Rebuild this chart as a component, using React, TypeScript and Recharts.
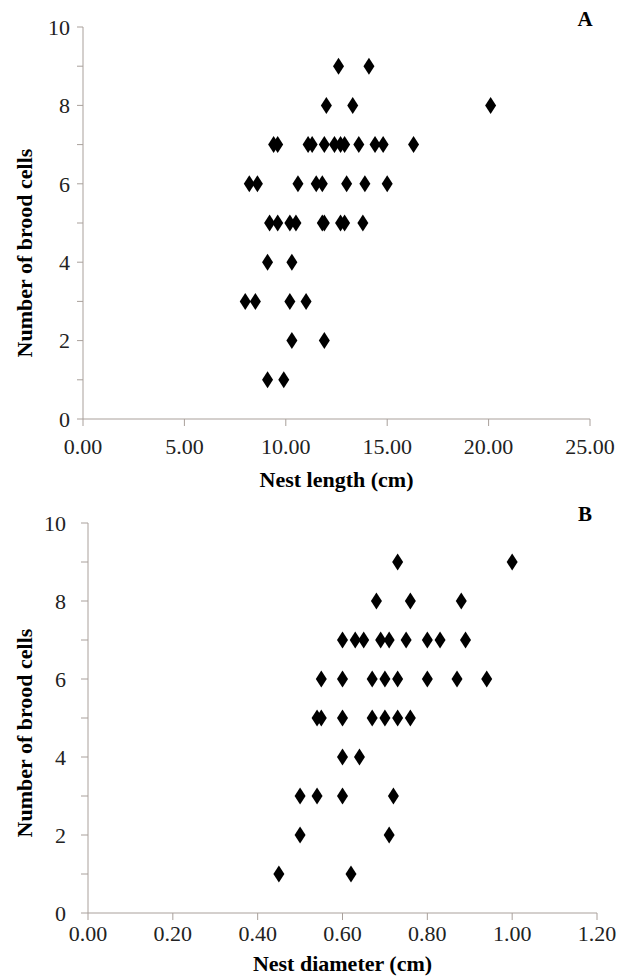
import React from 'react';
import { ScatterChart, Scatter, XAxis, YAxis, Label } from 'recharts';

// Panel A: nest length (cm) vs number of brood cells
const lengthCm = [
  12.6, 14.1,
  12.0, 13.3, 20.1,
  9.4, 9.6, 11.1, 11.3, 11.9, 12.4, 12.7, 12.9, 13.6, 14.4, 14.8, 16.3,
  8.2, 8.6, 10.6, 11.5, 11.8, 13.0, 13.9, 15.0,
  9.2, 9.6, 10.2, 10.5, 11.8, 11.9, 12.7, 12.9, 13.8,
  9.1, 10.3,
  8.0, 8.5, 10.2, 11.0,
  10.3, 11.9,
  9.1, 9.9,
];
const lengthCells = [
  9, 9,
  8, 8, 8,
  7, 7, 7, 7, 7, 7, 7, 7, 7, 7, 7, 7,
  6, 6, 6, 6, 6, 6, 6, 6,
  5, 5, 5, 5, 5, 5, 5, 5, 5,
  4, 4,
  3, 3, 3, 3,
  2, 2,
  1, 1,
];

// Panel B: nest diameter (cm) vs number of brood cells
const diameterCm = [
  0.73, 1.0,
  0.68, 0.76, 0.88,
  0.6, 0.63, 0.65, 0.69, 0.71, 0.75, 0.8, 0.83, 0.89,
  0.55, 0.6, 0.67, 0.7, 0.73, 0.8, 0.87, 0.94,
  0.54, 0.55, 0.6, 0.67, 0.7, 0.73, 0.76,
  0.6, 0.64,
  0.5, 0.54, 0.6, 0.72,
  0.5, 0.71,
  0.45, 0.62,
];
const diameterCells = [
  9, 9,
  8, 8, 8,
  7, 7, 7, 7, 7, 7, 7, 7, 7,
  6, 6, 6, 6, 6, 6, 6, 6,
  5, 5, 5, 5, 5, 5, 5,
  4, 4,
  3, 3, 3, 3,
  2, 2,
  1, 1,
];

const cellTicks = [0, 1, 2, 3, 4, 5, 6, 7, 8, 9, 10];
const lengthTicks = [0, 5, 10, 15, 20, 25];
const diameterTicks = [0, 0.2, 0.4, 0.6, 0.8, 1.0, 1.2];

const SERIF = "'Liberation Serif', 'Times New Roman', serif";
const AXIS = '#a9a09b';

const lengthData = lengthCm.map((x, i) => ({ x, y: lengthCells[i] }));
const diameterData = diameterCm.map((x, i) => ({ x, y: diameterCells[i] }));

const Diamond = (props: any) => {
  const { cx, cy } = props;
  if (cx == null || cy == null) return null;
  const w = 5.5;
  const h = 8.5;
  return (
    <polygon
      points={`${cx},${cy - h} ${cx + w},${cy} ${cx},${cy + h} ${cx - w},${cy}`}
      fill="#000"
    />
  );
};

const tickStyle = { fill: '#222', fontSize: 22, fontFamily: SERIF };
const titleStyle = { fill: '#000', fontSize: 22, fontWeight: 'bold', fontFamily: SERIF };

const evenOnly = (v: number) => (v % 2 === 0 ? String(v) : '');

const PanelLetter = ({ text, top }: { text: string; top: number }) => (
  <div
    style={{
      position: 'absolute',
      left: 570,
      top,
      width: 30,
      textAlign: 'center',
      fontFamily: SERIF,
      fontWeight: 'bold',
      fontSize: 21,
      lineHeight: '21px',
      color: '#000',
    }}
  >
    {text}
  </div>
);

export default function App() {
  return (
    <div style={{ position: 'absolute', left: 0, top: 0, width: 629, height: 978, background: '#fff' }}>
      {/* ─── A: Nest length ─── */}
      <div style={{ position: 'absolute', left: 0, top: 0 }}>
        <ScatterChart width={629} height={495} margin={{ top: 27, right: 39, bottom: 0, left: 0 }}>
          <XAxis
            type="number"
            dataKey="x"
            domain={[0, 25]}
            ticks={lengthTicks}
            interval={0}
            tickFormatter={(v: number) => v.toFixed(2)}
            height={76}
            tickSize={7}
            tickMargin={12}
            axisLine={{ stroke: AXIS }}
            tickLine={{ stroke: AXIS }}
            tick={tickStyle}
          >
            <Label value="Nest length (cm)" position="insideBottom" offset={8} style={titleStyle} />
          </XAxis>
          <YAxis
            type="number"
            dataKey="y"
            domain={[0, 10]}
            ticks={cellTicks}
            interval={0}
            tickFormatter={evenOnly}
            width={83}
            tickSize={6}
            tickMargin={7}
            axisLine={{ stroke: AXIS }}
            tickLine={{ stroke: AXIS }}
            tick={tickStyle}
          >
            <Label value="Number of brood cells" angle={-90} position="center" dx={-17.5} dy={30} style={titleStyle} />
          </YAxis>
          <Scatter data={lengthData} shape={<Diamond />} isAnimationActive={false} />
        </ScatterChart>
      </div>
      <PanelLetter text="A" top={9} />

      {/* ─── B: Nest diameter ─── */}
      <div style={{ position: 'absolute', left: 0, top: 495 }}>
        <ScatterChart width={629} height={483} margin={{ top: 28, right: 32, bottom: 0, left: 0 }}>
          <XAxis
            type="number"
            dataKey="x"
            domain={[0, 1.2]}
            ticks={diameterTicks}
            interval={0}
            tickFormatter={(v: number) => v.toFixed(2)}
            height={65}
            tickSize={7}
            tickMargin={5}
            axisLine={{ stroke: AXIS }}
            tickLine={{ stroke: AXIS }}
            tick={tickStyle}
          >
            <Label value="Nest diameter (cm)" position="insideBottom" offset={7} style={titleStyle} />
          </XAxis>
          <YAxis
            type="number"
            dataKey="y"
            domain={[0, 10]}
            ticks={cellTicks}
            interval={0}
            tickFormatter={evenOnly}
            width={88}
            tickSize={7}
            tickMargin={15}
            axisLine={{ stroke: AXIS }}
            tickLine={{ stroke: AXIS }}
            tick={tickStyle}
          >
            <Label value="Number of brood cells" angle={-90} position="center" dx={-20} dy={15} style={titleStyle} />
          </YAxis>
          <Scatter data={diameterData} shape={<Diamond />} isAnimationActive={false} />
        </ScatterChart>
      </div>
      <PanelLetter text="B" top={504} />
    </div>
  );
}
